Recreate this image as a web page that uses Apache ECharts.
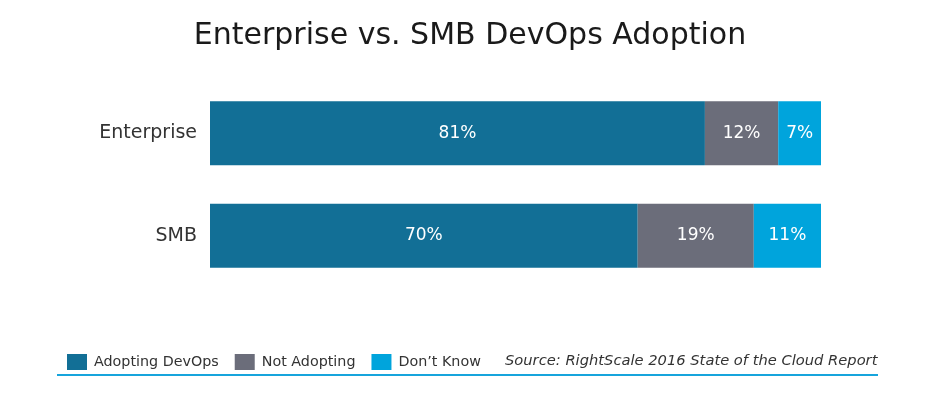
<!DOCTYPE html>
<html>
<head>
<meta charset="utf-8">
<script src="https://cdn.jsdelivr.net/npm/echarts@6/dist/echarts.min.js"></script>
<style>
  html, body { margin: 0; padding: 0; background: #fff; }
  #chart { width: 940px; height: 397px; }
</style>
</head>
<body>
<div id="chart"></div>
<script>
var categories = ['Enterprise', 'SMB'];
var adopting = [81, 70];
var notAdopting = [12, 19];
var dontKnow = [7, 11];

var seriesNames = ['Adopting DevOps', 'Not Adopting', 'Don\u2019t Know'];
var colors = ['#126f96', '#6b6d7a', '#00a4dc'];
var FONT = 'DejaVu Sans';

var chart = echarts.init(document.getElementById('chart'));

function barSeries(name, data, color) {
  return {
    name: name,
    type: 'bar',
    stack: 'total',
    barWidth: 64,
    data: data,
    itemStyle: { color: color },
    label: {
      show: true,
      position: 'inside',
      formatter: '{c}%',
      color: '#fff',
      fontFamily: FONT,
      fontSize: 17
    }
  };
}

var opt = {
  animation: false,
  title: {
    text: 'Enterprise vs. SMB DevOps Adoption',
    left: 'center',
    top: 16,
    textStyle: { fontFamily: FONT, fontWeight: 'normal', fontSize: 30, color: '#1a1a1a' }
  },
  grid: { left: 210, right: 119, top: 82, height: 205 },
  xAxis: {
    type: 'value', min: 0, max: 100, show: false
  },
  yAxis: {
    type: 'category',
    data: categories,
    inverse: true,
    axisLine: { show: false },
    axisTick: { show: false },
    axisLabel: { fontFamily: FONT, fontSize: 19, color: '#333', margin: 13 }
  },
  legend: {
    left: 67,
    top: 354,
    padding: 0,
    itemWidth: 20,
    itemHeight: 16,
    itemGap: 16,
    icon: 'rect',
    data: seriesNames,
    textStyle: { fontFamily: FONT, fontSize: 14.3, color: '#333', padding: [0, 0, 0, 2] }
  },
  graphic: [
    {
      type: 'text',
      left: 505,
      top: 354,
      style: {
        text: 'Source: RightScale 2016 State of the Cloud Report',
        font: 'oblique 14.7px "DejaVu Sans"',
        fill: '#333'
      }
    },
    {
      type: 'line',
      shape: { x1: 57, y1: 375, x2: 878, y2: 375 },
      style: { stroke: '#16a4dc', lineWidth: 2 }
    }
  ],
  series: [
    barSeries(seriesNames[0], adopting, colors[0]),
    barSeries(seriesNames[1], notAdopting, colors[1]),
    barSeries(seriesNames[2], dontKnow, colors[2])
  ]
};
chart.setOption(opt);
</script>
</body>
</html>
